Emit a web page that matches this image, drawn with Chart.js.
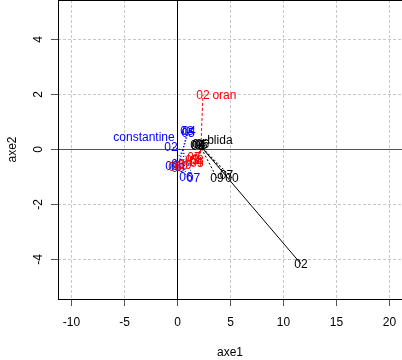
<!DOCTYPE html>
<html>
<head>
<meta charset="utf-8">
<script src="https://cdn.jsdelivr.net/npm/chart.js@4.4.1/dist/chart.umd.min.js"></script>
<style>
html,body{margin:0;padding:0;background:#fff;}
#wrap{width:402px;height:360px;position:relative;}
</style>
</head>
<body>
<div id="wrap"><canvas id="c"></canvas></div>
<script>
// ---- data ----
const cities = ['constantine', 'oran', 'blida'];
const cityColors = ['#0000ff', '#ff0000', '#000000'];
const years = ['02', '03', '04', '05', '06', '07', '08', '09', '00'];

// partial points (axe1, axe2) per city, in the order of `years`
const constantineX = [-0.61, 0.90, 1.08, 1.00, 0.80, 1.51, 0.05, -0.52, 0.05];
const constantineY = [0.09, 0.67, 0.69, 0.62, -1.00, -1.04, -0.53, -0.60, -0.67];
const oranX = [2.40, 1.37, 1.75, 1.84, -0.24, 1.56, 1.84, 0.70, 0.33];
const oranY = [1.98, -0.38, -0.45, -0.49, -0.64, -0.27, -0.38, -0.56, -0.60];
const blidaX = [11.65, 1.84, 2.03, 2.20, 2.35, 4.62, 1.93, 3.73, 5.14];
const blidaY = [-4.16, 0.16, 0.20, 0.16, 0.22, -0.93, 0.13, -1.04, -1.04];

// individual (mean) points
const centerX = [0.50, 2.20, 2.10];
const centerY = [-0.02, -0.05, 0.16];
// positions of the city-name labels
const cityLabelX = [-3.16, 4.43, 4.00];
const cityLabelY = [0.45, 1.98, 0.35];

const xTicks = [-10, -5, 0, 5, 10, 15, 20];
const yTicks = [-4, -2, 0, 2, 4];
const xMin = -11.27, xMax = 21.18;
const yMin = -5.436, yMax = 5.436;

// ---- build datasets ----
const partialX = [constantineX, oranX, blidaX];
const partialY = [constantineY, oranY, blidaY];
const FONT = '"Liberation Sans", Arial, sans-serif';

function dashFor(ci, yi) {
  if (ci === 2) return yi === 0 ? [] : [2, 2];
  if (ci === 1) return [3, 2];
  return [1, 2];
}

const datasets = [];
cities.forEach((c, ci) => {
  years.forEach((yr, yi) => {
    datasets.push({
      data: [{x: centerX[ci], y: centerY[ci]}, {x: partialX[ci][yi], y: partialY[ci][yi]}],
      showLine: true, borderColor: cityColors[ci], borderWidth: 1,
      borderDash: dashFor(ci, yi), pointRadius: 0, fill: false,
      order: 10
    });
  });
});
cities.forEach((c, ci) => {
  datasets.push({
    data: years.map((yr, yi) => ({x: partialX[ci][yi], y: partialY[ci][yi]})),
    pointRadius: 0, showLine: false, textLabels: years, textColor: cityColors[ci], order: 1
  });
  datasets.push({
    data: [{x: cityLabelX[ci], y: cityLabelY[ci]}],
    pointRadius: 0, showLine: false, textLabels: [c], textColor: cityColors[ci], order: 1
  });
});

const labelPlugin = {
  id: 'labels',
  afterDatasetsDraw(chart) {
    const ctx = chart.ctx;
    ctx.save();
    const a = chart.chartArea;
    ctx.beginPath();
    ctx.rect(a.left, a.top, a.right - a.left, a.bottom - a.top);
    ctx.clip();
    ctx.font = '12px ' + FONT;
    ctx.textAlign = 'center';
    ctx.textBaseline = 'middle';
    chart.data.datasets.forEach((ds, i) => {
      if (!ds.textLabels) return;
      const meta = chart.getDatasetMeta(i);
      ctx.fillStyle = ds.textColor;
      meta.data.forEach((el, j) => {
        ctx.fillText(ds.textLabels[j], el.x, el.y + 1);
      });
    });
    ctx.restore();
    // plot box
    ctx.save();
    ctx.strokeStyle = '#000';
    ctx.lineWidth = 1;
    ctx.strokeRect(Math.round(a.left) + 0.5, Math.round(a.top) + 0.5,
                   Math.round(a.right - a.left) + 2, Math.round(a.bottom - a.top));
    ctx.restore();
  }
};

function noPad(s) { s.paddingTop = 0; s.paddingBottom = 0; s.paddingLeft = 0; s.paddingRight = 0; }

new Chart(document.getElementById('c'), {
  type: 'scatter',
  data: {datasets},
  plugins: [labelPlugin],
  options: {
    responsive: true, maintainAspectRatio: false, animation: false,
    devicePixelRatio: 1,
    layout: {padding: {top: 0, right: 0, left: 0, bottom: 0}},
    plugins: {legend: {display: false}, tooltip: {enabled: false}},
    events: [],
    scales: {
      x: {
        type: 'linear', position: 'bottom', min: xMin, max: xMax,
        afterBuildTicks: s => { s.ticks = xTicks.map(v => ({value: v})); },
        afterFit: s => { s.height = 61; noPad(s); },
        grid: {
          color: c => (c.tick && c.tick.value === 0) ? '#000' : '#c8c8c8',
          lineWidth: 1, drawTicks: true, tickLength: 7, tickColor: '#555', tickBorderDash: [], tickWidth: 1
        },
        border: {display: false, dash: c => (c.tick && c.tick.value === 0) ? [] : [3, 2]},
        ticks: {color: '#000', font: {family: FONT, size: 12}, padding: 9, autoSkip: false, maxRotation: 0, minRotation: 0},
        title: {display: true, text: 'axe1', color: '#000', font: {family: FONT, size: 12}, padding: {top: 0, bottom: 0}}
      },
      y: {
        type: 'linear', position: 'left', min: yMin, max: yMax,
        afterBuildTicks: s => { s.ticks = yTicks.map(v => ({value: v})); },
        afterFit: s => { s.width = 58; noPad(s); },
        grid: {
          color: c => (c.tick && c.tick.value === 0) ? '#555' : '#c8c8c8',
          lineWidth: 1, drawTicks: true, tickLength: 7, tickColor: '#555', tickBorderDash: [], tickWidth: 1
        },
        border: {display: false, dash: c => (c.tick && c.tick.value === 0) ? [] : [3, 2]},
        ticks: {color: '#000', font: {family: FONT, size: 12}, padding: 7, autoSkip: false, minRotation: 90, maxRotation: 90, crossAlign: 'center'},
        title: {display: true, text: 'axe2', color: '#000', font: {family: FONT, size: 12}, padding: {top: 5, bottom: 0}}
      }
    }
  }
});
</script>
</body>
</html>
